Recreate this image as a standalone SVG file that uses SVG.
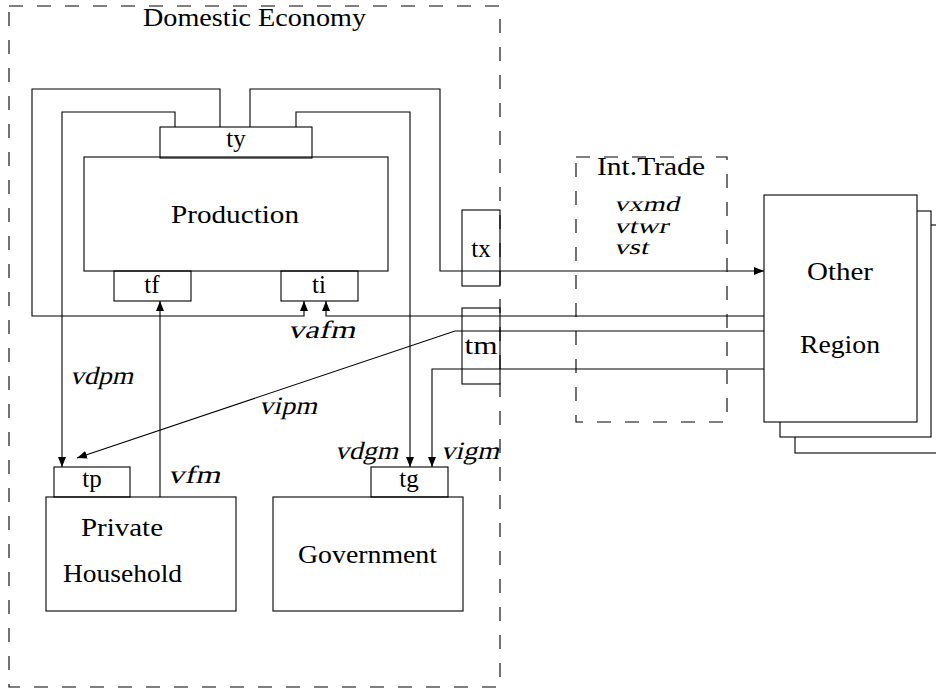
<svg xmlns="http://www.w3.org/2000/svg" width="936" height="688" viewBox="0 0 936 688">
<style>
.ln{fill:none;stroke:#000;stroke-width:1.1}
.box{fill:none;stroke:#000;stroke-width:1.1}
.wbox{fill:#fff;stroke:#000;stroke-width:1.1}
.dash{fill:none;stroke:#000;stroke-width:1.1;stroke-dasharray:14 14}
text{font-family:"Liberation Serif","Times New Roman",serif;font-size:25px;fill:#000}
.m{font-size:25px}
.s{font-size:21px}
.c{text-anchor:middle}
</style>
<defs>
<marker id="arr" markerUnits="userSpaceOnUse" markerWidth="10" markerHeight="8" refX="10" refY="4" orient="auto">
<path d="M0,0 L10,4 L0,8 z" fill="#000"/>
</marker>
</defs>
<g id="domestic-economy">
<rect class="dash" x="9" y="6" width="491" height="681"/>
<text x="143" y="26" textLength="223" lengthAdjust="spacingAndGlyphs">Domestic Economy</text>
</g>
<g id="int-trade">
<rect class="dash" x="576" y="157" width="151" height="265"/>
<text x="597" y="175" textLength="108" lengthAdjust="spacingAndGlyphs">Int.Trade</text>
<text class="m s" transform="translate(614,211) skewX(-14)" textLength="65" lengthAdjust="spacingAndGlyphs">vxmd</text>
<text class="m s" transform="translate(614,233) skewX(-14)" textLength="54" lengthAdjust="spacingAndGlyphs">vtwr</text>
<text class="m s" transform="translate(614,254) skewX(-14)" textLength="34" lengthAdjust="spacingAndGlyphs">vst</text>
</g>
<g id="other-region">
<rect class="wbox" x="795" y="225" width="151" height="228"/>
<rect class="wbox" x="780" y="211" width="151" height="226"/>
<rect class="wbox" x="764" y="195" width="153" height="227"/>
<text x="807" y="280" textLength="66" lengthAdjust="spacingAndGlyphs">Other</text>
<text x="800" y="353" textLength="80" lengthAdjust="spacingAndGlyphs">Region</text>
</g>
<g id="connectors">
<path class="ln" d="M220,127 V89 H32 V316 H304 V301" marker-end="url(#arr)"/>
<path class="ln" d="M764,316 H326 V301" marker-end="url(#arr)"/>
<path class="ln" d="M250,127 V89 H440 V271 H764" marker-end="url(#arr)"/>
<path class="ln" d="M175,127 V112 H62 V467" marker-end="url(#arr)"/>
<path class="ln" d="M296,127 V112 H410 V467" marker-end="url(#arr)"/>
<path class="ln" d="M160,497 V301" marker-end="url(#arr)"/>
<path class="ln" d="M764,331 H455 L77,458" marker-end="url(#arr)"/>
<path class="ln" d="M764,369 H432 V467" marker-end="url(#arr)"/>
<text class="m" transform="translate(288,338) skewX(-14)" textLength="67" lengthAdjust="spacingAndGlyphs">vafm</text>
<text class="m" transform="translate(70,384) skewX(-14)" textLength="63" lengthAdjust="spacingAndGlyphs">vdpm</text>
<text class="m" transform="translate(259,414) skewX(-14)" textLength="58" lengthAdjust="spacingAndGlyphs">vipm</text>
<text class="m" transform="translate(168,483) skewX(-14)" textLength="52" lengthAdjust="spacingAndGlyphs">vfm</text>
<text class="m" transform="translate(335,459) skewX(-14)" textLength="63" lengthAdjust="spacingAndGlyphs">vdgm</text>
<text class="m" transform="translate(441,459) skewX(-14)" textLength="58" lengthAdjust="spacingAndGlyphs">vigm</text>
</g>
<g id="production">
<rect class="box" x="84" y="157" width="304" height="114"/>
<text x="171" y="223" textLength="128" lengthAdjust="spacingAndGlyphs">Production</text>
</g>
<g id="ty">
<rect class="box" x="160" y="127" width="152" height="31"/>
<text class="c" x="236" y="147">ty</text>
</g>
<g id="tf">
<rect class="box" x="114" y="271" width="77" height="30"/>
<text class="c" x="152" y="293">tf</text>
</g>
<g id="ti">
<rect class="box" x="281" y="271" width="77" height="30"/>
<text class="c" x="319" y="293">ti</text>
</g>
<g id="tx">
<rect class="box" x="462" y="210" width="38" height="76"/>
<text class="c" x="481" y="257">tx</text>
</g>
<g id="tm">
<rect class="box" x="462" y="308" width="38" height="76"/>
<text class="c" x="481" y="354" textLength="33" lengthAdjust="spacingAndGlyphs">tm</text>
</g>
<g id="tp">
<rect class="box" x="54" y="467" width="76" height="30"/>
<text class="c" x="92" y="487">tp</text>
</g>
<g id="tg">
<rect class="box" x="371" y="467" width="77" height="30"/>
<text class="c" x="409" y="487">tg</text>
</g>
<g id="private-household">
<rect class="box" x="46" y="497" width="190" height="114"/>
<text x="81" y="536" textLength="82" lengthAdjust="spacingAndGlyphs">Private</text>
<text x="63" y="582" textLength="119" lengthAdjust="spacingAndGlyphs">Household</text>
</g>
<g id="government">
<rect class="box" x="273" y="497" width="190" height="114"/>
<text x="298" y="563" textLength="139" lengthAdjust="spacingAndGlyphs">Government</text>
</g>
</svg>
